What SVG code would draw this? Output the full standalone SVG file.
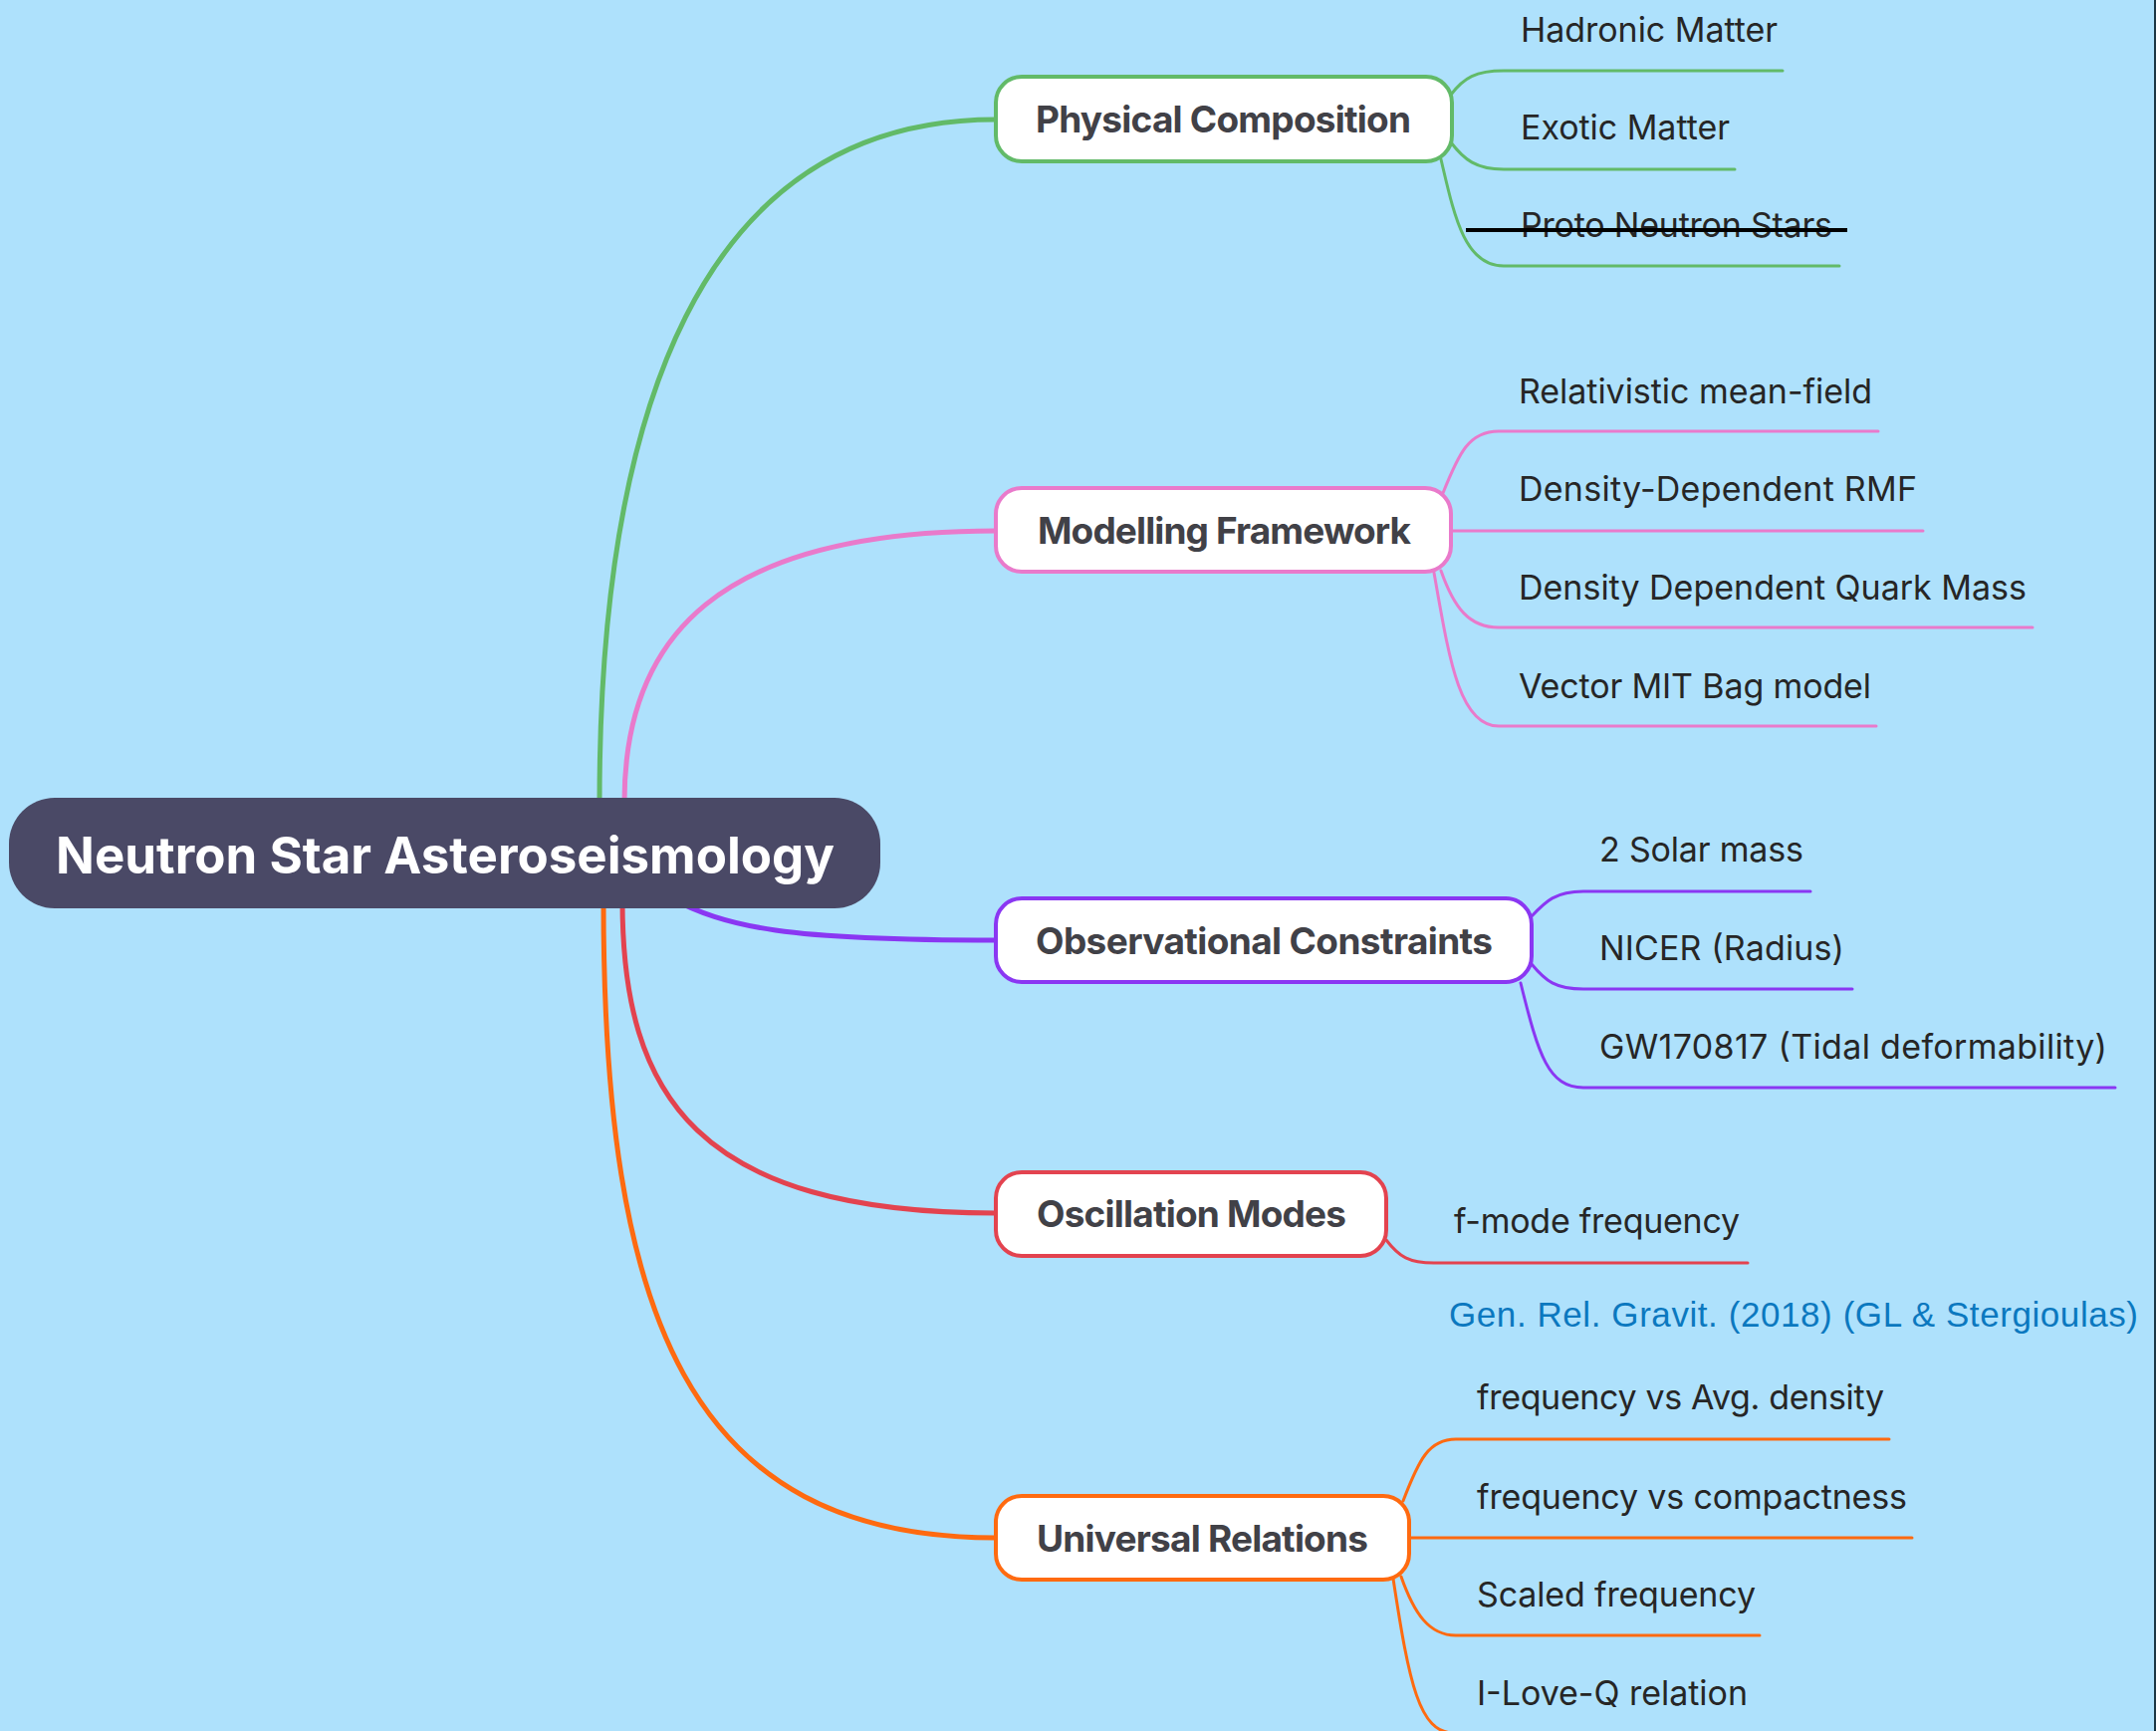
<svg xmlns="http://www.w3.org/2000/svg" width="2165" height="1738" viewBox="0 0 2165 1738">
<style>
.bg{fill:#AEE1FC}
.node rect{fill:#FFFFFF;stroke-width:4}
.ntext{font-family:Inter,"Liberation Sans",sans-serif;font-weight:700;font-size:37px;fill:#414147}
.leaf{font-family:Inter,"Liberation Sans",sans-serif;font-size:34px;fill:#262626}
.link{font-family:"Liberation Sans",Arial,sans-serif;font-size:35px;fill:#0B78BF}
.conn path{fill:none;stroke-linecap:round}
.main{stroke-width:5}
.sub{stroke-width:3}
.g{stroke:#62BA68}
.p{stroke:#E97ACB}
.v{stroke:#8A37F2}
.r{stroke:#E3434F}
.o{stroke:#FF6A10}
</style>
<rect class="bg" x="0" y="0" width="2165" height="1738"/>
<rect x="2163" y="0" width="2" height="1738" fill="#1C3644"/>

<g id="connectors" class="conn">
  <path class="main g" d="M602,805 C602,420 700,120 1000,120"/>
  <path class="main p" d="M627,805 C627,640 720,533 1000,533"/>
  <path class="main v" d="M670,900 C730,932 790,944 1000,944"/>
  <path class="main r" d="M625,905 C625,1100 700,1218 1000,1218"/>
  <path class="main o" d="M606,905 C606,1320 690,1544 1000,1544"/>

  <path class="sub g" d="M1457,95 C1470,78 1482,71 1510,71 H1790"/>
  <path class="sub g" d="M1457,143 C1470,160 1482,170 1510,170 H1742"/>
  <path class="sub g" d="M1447,160 C1460,215 1470,267 1510,267 H1847"/>

  <path class="sub p" d="M1449,495 C1465,455 1475,433 1505,433 H1886"/>
  <path class="sub p" d="M1457,533 H1931"/>
  <path class="sub p" d="M1447,573 C1460,610 1475,630 1505,630 H2041"/>
  <path class="sub p" d="M1440,575 C1455,660 1465,729 1505,729 H1884"/>

  <path class="sub v" d="M1538,920 C1552,905 1562,895 1590,895 H1818"/>
  <path class="sub v" d="M1538,968 C1552,985 1562,993 1590,993 H1860"/>
  <path class="sub v" d="M1527,987 C1545,1060 1555,1092 1590,1092 H2124"/>

  <path class="sub r" d="M1392,1245 C1405,1262 1415,1268 1440,1268 H1755"/>

  <path class="sub o" d="M1409,1507 C1425,1465 1435,1445 1462,1445 H1897"/>
  <path class="sub o" d="M1416,1544 H1920"/>
  <path class="sub o" d="M1407,1583 C1420,1620 1435,1642 1462,1642 H1767"/>
  <path class="sub o" d="M1399,1585 C1415,1690 1425,1740 1460,1740 H1760"/>
</g>

<g id="root">
  <rect x="9" y="801" width="875" height="111" rx="46" fill="#4A4966"/>
  <text x="56" y="877" font-family="Inter,'Liberation Sans',sans-serif" font-weight="700" font-size="51" fill="#FFFFFF" textLength="782">Neutron Star Asteroseismology</text>
</g>

<g id="physical-composition" class="node">
  <rect x="1000" y="77" width="458" height="85" rx="26" class="g"/>
  <text class="ntext" x="1040" y="133" textLength="377">Physical Composition</text>
</g>
<g id="hadronic-matter"><text class="leaf" x="1527" y="42" textLength="258">Hadronic Matter</text></g>
<g id="exotic-matter"><text class="leaf" x="1527" y="140" textLength="210">Exotic Matter</text></g>
<g id="proto-neutron-stars">
  <text class="leaf" x="1527" y="238" textLength="313">Proto Neutron Stars</text>
  <line x1="1472" y1="231" x2="1855" y2="231" stroke="#000000" stroke-width="4"/>
</g>

<g id="modelling-framework" class="node">
  <rect x="1000" y="490" width="457" height="84" rx="26" class="p"/>
  <text class="ntext" x="1042" y="546" textLength="375">Modelling Framework</text>
</g>
<g id="rmf"><text class="leaf" x="1525" y="405" textLength="355">Relativistic mean-field</text></g>
<g id="dd-rmf"><text class="leaf" x="1525" y="503" textLength="400">Density-Dependent RMF</text></g>
<g id="dd-quark"><text class="leaf" x="1525" y="602" textLength="510">Density Dependent Quark Mass</text></g>
<g id="vector-mit"><text class="leaf" x="1525" y="701" textLength="354">Vector MIT Bag model</text></g>

<g id="observational-constraints" class="node">
  <rect x="1000" y="902" width="538" height="84" rx="26" class="v"/>
  <text class="ntext" x="1040" y="958" textLength="459">Observational Constraints</text>
</g>
<g id="solar-mass"><text class="leaf" x="1606" y="865" textLength="205">2 Solar mass</text></g>
<g id="nicer"><text class="leaf" x="1606" y="964" textLength="246">NICER (Radius)</text></g>
<g id="gw170817"><text class="leaf" x="1606" y="1063" textLength="510">GW170817 (Tidal deformability)</text></g>

<g id="oscillation-modes" class="node">
  <rect x="1000" y="1177" width="392" height="84" rx="26" class="r"/>
  <text class="ntext" x="1041" y="1232" textLength="311">Oscillation Modes</text>
</g>
<g id="f-mode"><text class="leaf" x="1460" y="1238" textLength="287">f-mode frequency</text></g>
<g id="reference"><text class="link" x="1455" y="1332" textLength="692">Gen. Rel. Gravit. (2018) (GL &amp; Stergioulas)</text></g>

<g id="universal-relations" class="node">
  <rect x="1000" y="1502" width="415" height="84" rx="26" class="o"/>
  <text class="ntext" x="1041" y="1558" textLength="333">Universal Relations</text>
</g>
<g id="freq-density"><text class="leaf" x="1483" y="1415" textLength="409">frequency vs Avg. density</text></g>
<g id="freq-compactness"><text class="leaf" x="1483" y="1515" textLength="432">frequency vs compactness</text></g>
<g id="scaled-frequency"><text class="leaf" x="1483" y="1613" textLength="280">Scaled frequency</text></g>
<g id="i-love-q"><text class="leaf" x="1483" y="1712" textLength="272">I-Love-Q relation</text></g>
</svg>
